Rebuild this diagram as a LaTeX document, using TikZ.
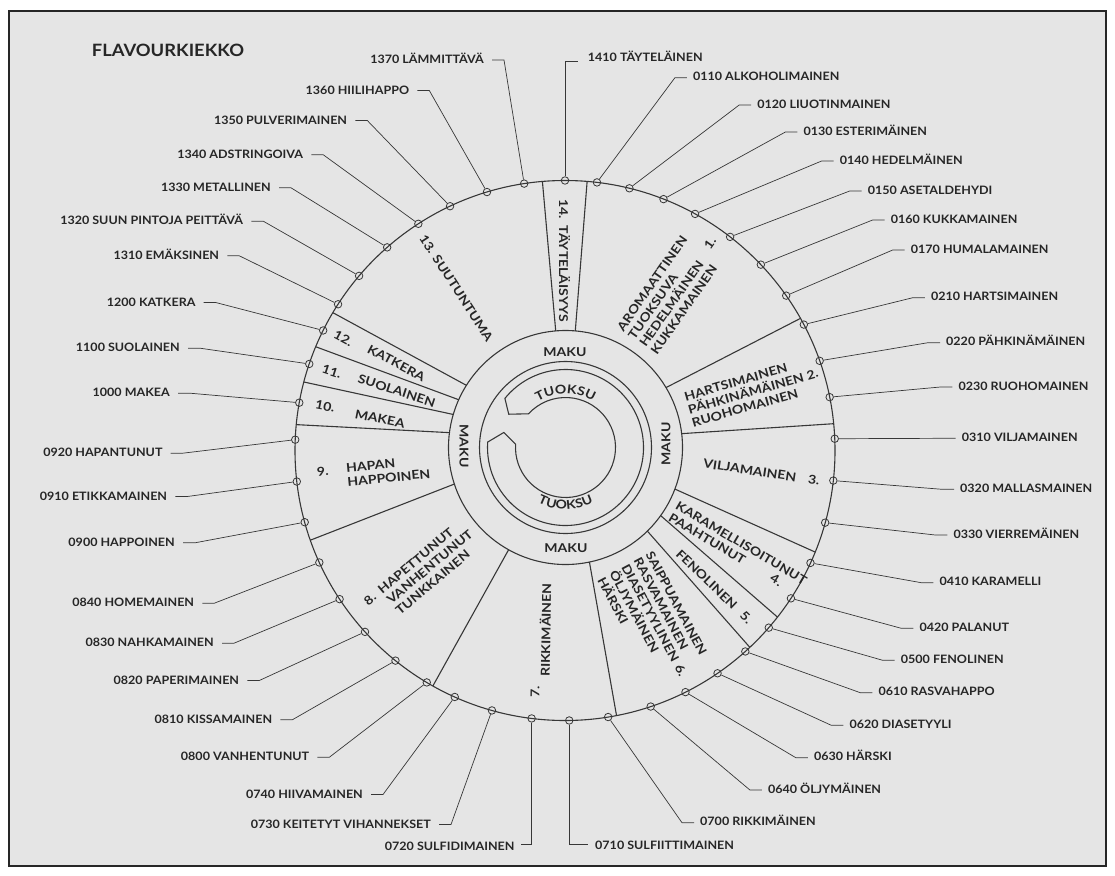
\documentclass[tikz,border=0pt]{standalone}
\usepackage{fontspec}
\setmainfont{Lato}[FakeStretch=1.08]
\newfontfamily\secfam{Lato}[FakeStretch=1.15]
\usetikzlibrary{decorations.text}
\definecolor{bg}{RGB}{229,229,229}
\definecolor{txt}{RGB}{38,38,38}
\definecolor{ln}{RGB}{55,55,55}
\newcommand\labfont{\fontsize{11.6}{13}\selectfont\bfseries}
\newcommand\secfont{\secfam\fontsize{12.2}{13.7}\selectfont\bfseries}
\begin{document}
\begin{tikzpicture}[x=1pt,y=1pt,
  lab/.style={font=\labfont, text=txt, inner sep=0pt, text height=8.3pt, text depth=0pt},
  mk/.style={circle, draw=ln, line width=0.8pt, minimum size=7.5pt, inner sep=0pt},
  leader/.style={draw=ln, line width=0.7pt},
  sect/.style={font=\secfont, text=txt, inner sep=0pt, align=left},
  ring/.style={draw=ln, line width=1.1pt}]
\useasboundingbox (0,0) rectangle (1115,-875);
\fill[white] (0,0) rectangle (1115,-875);
\draw[fill=bg, line width=2pt, draw=black!85] (9,-11) rectangle (1106,-866);
\coordinate (c) at (565,-450.5);
\coordinate (ci) at (565.5,-447.5);
% circles
\draw[ring] (c) circle[radius=270];
\draw[ring] (ci) circle[radius=117];
\draw[ring] (ci) circle[radius=86];
% C-shaped band
\draw[ring] ([shift={(ci)}]141:78) arc[start angle=141, end angle=-184, radius=78]
  -- ([shift={(ci)}]166.3:63.5) -- ([shift={(ci)}]-183.8:50)
  arc[start angle=-183.8, end angle=137.6, radius=50]
  -- ([shift={(ci)}]149.6:65.8) -- cycle;
% sector boundaries
\foreach \i/\o in {94.8/94.8, 85.2/85.3, 30.8/29.3, 6.8/5.7, -20.8/-22.1, -35.6/-38.1,
  -45.6/-46.8, -78.2/-79, 240.9/240.7, 198.2/199.4, 172.7/174.5, 163.6/165.3,
  155.9/157.4, 147.9/149.3}
  \draw[ring] ([shift={(ci)}]\i:117) -- ([shift={(c)}]\o:270);
% title
\node[font=\fontsize{17}{19}\selectfont\bfseries, text=txt, anchor=west, inner sep=0pt] (title) at (91.7,-50.7) {FLAVOURKIEKKO};
% right-hand labels
\foreach \cd/\a/\x/\y/\t in {0110/83.2/692.9/76.7/ALKOHOLIMAINEN,
  0120/76.2/757.2/104/LIUOTINMAINEN,
  0130/68.6/803.4/131/ESTERIMÄINEN,
  0140/61.2/839.6/160/HEDELMÄINEN,
  0150/52.3/867.7/190/ASETALDEHYDI,
  0160/43.5/890.6/219/KUKKAMAINEN,
  0170/35/910.7/249/HUMALAMAINEN,
  0210/27.8/930.8/296.7/HARTSIMAINEN,
  0220/19.4/946/341.7/PÄHKINÄMÄINEN,
  0230/11.4/958.3/386/RUOHOMAINEN,
  0310/2.5/961.7/437.3/VILJAMAINEN,
  0320/-6.4/960/488.3/MALLASMAINEN,
  0330/-15.5/953.3/534/VIERREMÄINEN,
  0410/-24.6/939.3/581.7/KARAMELLI,
  0420/-33.2/919.3/627.3/PALANUT,
  0500/-41/900.7/659.3/FENOLINEN,
  0610/-48.1/878.3/691.7/RASVAHAPPO,
  0620/-55.6/849.3/724.3/DIASETYYLI,
  0630/-63.5/813.8/756.7/HÄRSKI,
  0640/-71.5/767.9/789/ÖLJYMÄINEN,
  0700/-80.8/700/821.7/RIKKIMÄINEN}{
  \node[mk] (m\cd) at ([shift={(c)}]\a:270) {};
  \node[lab, anchor=west] (l\cd) at (\x,-\y) {\cd\ \t};
  \draw[leader] (m\cd) -- ([xshift=-18pt,yshift=-1pt]l\cd.west) -- ([xshift=-6pt,yshift=-1pt]l\cd.west);
}
% left-hand labels
\foreach \cd/\a/\x/\y/\t in {1370/98.7/484/59.5/LÄMMITTÄVÄ,
  1360/106.8/409.3/90/HIILIHAPPO,
  1350/115.2/347.3/120/PULVERIMAINEN,
  1340/122.9/303.3/154.3/ADSTRINGOIVA,
  1330/131.2/271/187.3/METALLINEN,
  1320/139.7/243.3/220.7/SUUN PINTOJA PEITTÄVÄ,
  1310/147.2/219.3/255.3/EMÄKSINEN,
  1200/153.6/195.7/302/KATKERA,
  1100/161.3/180/347.7/SUOLAINEN,
  1000/169.8/170/392.7/MAKEA,
  0920/177.7/162.7/452.7/HAPANTUNUT,
  0910/186.6/167.3/496/ETIKKAMAINEN,
  0900/195.4/175/542.3/HAPPOINEN,
  0840/204.5/194.3/602.7/HOMEMAINEN,
  0830/213.4/214/642.7/NAHKAMAINEN,
  0820/222.2/239.3/680/PAPERIMAINEN,
  0810/231.1/272.3/719.3/KISSAMAINEN,
  0800/239.2/309.4/756.7/VANHENTUNUT,
  0740/245.9/363/794/HIIVAMAINEN,
  0730/254.3/431/824/KEITETYT VIHANNEKSET}{
  \node[mk] (m\cd) at ([shift={(c)}]\a:270) {};
  \node[lab, anchor=east] (l\cd) at (\x,-\y) {\cd\ \t};
  \draw[leader] (m\cd) -- ([xshift=20pt,yshift=-0.5pt]l\cd.east) -- ([xshift=8pt,yshift=-0.5pt]l\cd.east);
}
% vertical leaders
\node[mk] (m1410) at ([shift={(c)}]90:270) {};
\node[lab, anchor=west] (l1410) at (587.7,-57.3) {1410 TÄYTELÄINEN};
\draw[leader] (m1410) |- ([xshift=-10pt,yshift=-4pt]l1410.west);
\node[mk] (m0710) at ([shift={(c)}]-89.1:270) {};
\node[lab, anchor=west] (l0710) at (595,-845) {0710 SULFIITTIMAINEN};
\draw[leader] (m0710) |- ([xshift=-7pt,yshift=1pt]l0710.west);
\node[mk] (m0720) at ([shift={(c)}]262.9:270) {};
\node[lab, anchor=east] (l0720) at (514.7,-846.7) {0720 SULFIDIMAINEN};
\draw[leader] (m0720) |- ([xshift=6pt,yshift=2pt]l0720.east);
% MAKU ring
\node[sect] (mk1) at (565,-351.7) {MAKU};
\node[sect] (mk2) at (566,-547.7) {MAKU};
\node[sect, rotate=-90] (mk3) at (464,-446) {MAKU};
\node[sect, rotate=90] (mk4) at (666,-444) {MAKU};
% TUOKSU along arcs
\path[decorate, decoration={text along path, text={|\secfont\color{txt}|TUOKSU}, text align=center}]
  ([shift={(ci)}]150:53.5) arc[start angle=150, end angle=30, radius=53.5];
\path[decorate, decoration={text along path, text={|\secfont\color{txt}|TUOKSU}, text align=center}]
  ([shift={(ci)}]220:62) arc[start angle=220, end angle=320, radius=62];
% sector texts
\node[sect, anchor=west, rotate=55] (s1) at (636.6,-341.6) {AROMAATTINEN\\TUOKSUVA\\HEDELMÄINEN\\KUKKAMAINEN};
\node[sect, rotate=55] (n1) at (710,-243.3) {1.};
\node[sect, anchor=west, rotate=16] (s2) at (688.3,-410) {HARTSIMAINEN\\PÄHKINÄMÄINEN 2.\\RUOHOMAINEN};
\node[sect, anchor=west, rotate=-8.6] (s3) at (703.3,-463.3) {\makebox[106pt][l]{VILJAMAINEN}3.};
\node[sect, anchor=west, rotate=-30.7] (s4) at (673.3,-510.8) {KARAMELLISOITUNUT\\\makebox[118pt][l]{PAAHTUNUT}4.};
\node[sect, anchor=west, rotate=-44] (s5) at (678,-551.7) {\makebox[89pt][l]{FENOLINEN}5.};
\node[sect, anchor=west, rotate=-62] (s6) at (625,-565) {SAIPPUAMAINEN\\RASVAMAINEN\\\makebox[113pt][l]{DIASETYYLINEN}6.\\ÖLJYMÄINEN\\HÄRSKI};
\node[sect, rotate=89] (s7) at (545,-630) {RIKKIMÄINEN};
\node[sect, rotate=89] (n7) at (535,-691.7) {7.};
\node[sect, anchor=west, rotate=40] (s8) at (388.3,-601.7) {\llap{8.\ \ }HAPETTUNUT\\VANHENTUNUT\\TUNKKAINEN};
\node[sect, anchor=west, rotate=5.5] (s9) at (346.7,-475) {HAPAN\\HAPPOINEN};
\node[sect, rotate=5.5] (n9) at (322.7,-471.7) {9.};
\node[sect, anchor=west, rotate=-11] (s10) at (355,-414) {MAKEA};
\node[sect, rotate=-11] (n10) at (325,-406) {10.};
\node[sect, anchor=west, rotate=-18] (s11) at (358.3,-378.3) {SUOLAINEN};
\node[sect, rotate=-18] (n11) at (331.7,-371.7) {11.};
\node[sect, anchor=west, rotate=-28] (s12) at (368.3,-348.3) {KATKERA};
\node[sect, rotate=-28] (n12) at (343.3,-338.3) {12.};
\node[sect, rotate=-57] (s13) at (456.3,-288) {13. SUUTUNTUMA};
\node[sect, rotate=-90] (s14) at (564.5,-260.5) {14.\ \ TÄYTELÄISYYS};
\end{tikzpicture}
\end{document}
